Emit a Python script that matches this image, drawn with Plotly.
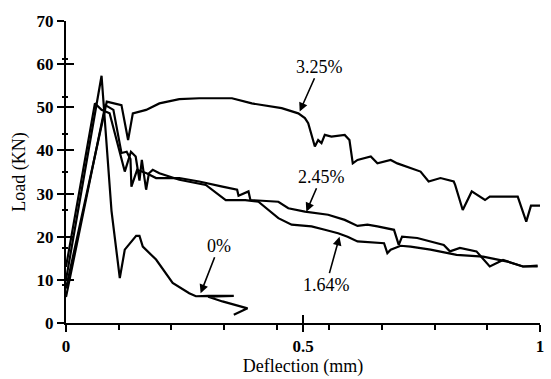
import plotly.graph_objects as go

# ---- data ----
x_0 = [0.0, 0.075, 0.096, 0.1135, 0.124, 0.138, 0.148, 0.155, 0.162, 0.19, 0.225, 0.26, 0.274,
       0.30, 0.354, 0.30, 0.33, 0.383, 0.354]
y_0 = [10.0, 57.3, 26.0, 10.4, 17.0, 18.9, 20.2, 20.2, 17.7, 14.7, 9.3, 6.9, 6.2,
       6.3, 6.3, 6.1, 5.0, 3.4, 1.9]

x_164 = [0.0, 0.061, 0.075, 0.092, 0.103, 0.116, 0.124, 0.137, 0.147, 0.155, 0.16, 0.169, 0.175,
         0.183, 0.197, 0.239, 0.295, 0.337, 0.378, 0.406, 0.427, 0.448, 0.476, 0.518, 0.546,
         0.574, 0.594, 0.615, 0.671, 0.678, 0.685, 0.706, 0.727, 0.769, 0.824, 0.88, 0.929,
         0.964, 0.995]
y_164 = [13.0, 50.9, 49.4, 48.6, 44.0, 38.6, 35.1, 39.7, 38.6, 33.0, 37.8, 30.9, 34.7,
         35.5, 34.7, 33.2, 32.0, 28.5, 28.5, 28.1, 26.2, 24.3, 22.8, 22.4, 21.6,
         20.8, 20.0, 18.9, 18.5, 16.2, 17.0, 17.9, 17.7, 17.0, 15.8, 15.4, 14.3,
         13.1, 13.1]

x_245 = [0.0, 0.083, 0.1, 0.11, 0.117, 0.128, 0.136, 0.138, 0.15, 0.17, 0.19, 0.239, 0.281,
         0.33, 0.361, 0.364, 0.385, 0.389, 0.448, 0.469, 0.504, 0.553, 0.588, 0.615, 0.636,
         0.657, 0.692, 0.702, 0.709, 0.741, 0.797, 0.81, 0.831, 0.866, 0.894, 0.922, 0.964,
         0.995]
y_245 = [6.0, 50.5, 49.4, 44.0, 39.4, 39.7, 38.0, 31.6, 35.5, 34.7, 33.6, 33.6, 32.8,
         31.6, 30.9, 29.5, 30.5, 28.5, 28.1, 26.6, 25.8, 25.1, 23.9, 22.5, 22.8,
         22.4, 21.6, 18.1, 20.0, 19.7, 18.1, 16.6, 17.4, 16.6, 13.1, 14.6, 13.1,
         13.3]

x_325 = [0.0, 0.086, 0.117, 0.131, 0.141, 0.169, 0.197, 0.239, 0.281, 0.35, 0.392, 0.455, 0.49,
         0.504, 0.511, 0.525, 0.532, 0.539, 0.546, 0.56, 0.588, 0.598, 0.605, 0.615, 0.643,
         0.657, 0.685, 0.699, 0.748, 0.765, 0.79, 0.818, 0.821, 0.837, 0.856, 0.884, 0.894,
         0.953, 0.971, 0.981, 1.0]
y_325 = [8.0, 51.3, 50.5, 42.4, 48.6, 49.4, 50.9, 51.9, 52.1, 52.1, 50.9, 49.8, 48.6,
         47.5, 46.3, 40.9, 42.4, 41.7, 43.6, 43.2, 43.6, 42.4, 37.0, 37.8, 38.6,
         37.0, 37.8, 37.0, 35.1, 32.8, 33.6, 32.8, 32.0, 26.2, 30.5, 28.5, 29.3,
         29.3, 23.5, 27.2, 27.2]

labels = ["0%", "1.64%", "2.45%", "3.25%"]
label_text_x = [0.323, 0.549, 0.539, 0.535]
label_text_y = [17.9, 8.9, 33.9, 59.4]
label_head_x = [0.284, 0.577, 0.507, 0.493]
label_head_y = [6.9, 20.0, 25.8, 49.0]

x_major = [0, 0.5, 1]
x_major_text = ["0", "0.5", "1"]
y_major = [0, 10, 20, 30, 40, 50, 60, 70]

FONT = "Liberation Serif, Times New Roman, serif"

fig = go.Figure()
for xs, ys in [(x_0, y_0), (x_164, y_164), (x_245, y_245), (x_325, y_325)]:
    fig.add_trace(go.Scatter(x=xs, y=ys, mode="lines",
                             line=dict(color="black", width=2.2),
                             showlegend=False, hoverinfo="skip"))
# invisible trace so the overlay axes (inside ticks) get drawn
fig.add_trace(go.Scatter(x=[0.5], y=[35], mode="markers", marker=dict(opacity=0),
                         xaxis="x2", yaxis="y2", showlegend=False, hoverinfo="skip"))

for t, tx, ty, hx, hy in zip(labels, label_text_x, label_text_y, label_head_x, label_head_y):
    fig.add_annotation(x=hx, y=hy, ax=tx, ay=ty, axref="x", ayref="y",
                       text=t, showarrow=True, arrowhead=2, arrowsize=1.1,
                       arrowwidth=1.6, arrowcolor="black", standoff=0,
                       font=dict(family=FONT, size=18, color="black"))

fig.update_layout(
    width=551, height=379,
    margin=dict(l=66, r=7, t=21, b=56),
    paper_bgcolor="white", plot_bgcolor="white",
    xaxis=dict(range=[0, 1], tickvals=x_major, ticktext=x_major_text,
               ticks="outside", ticklen=7, tickwidth=2, tickcolor="black",
               showline=True, linecolor="black", linewidth=2, showgrid=False,
               zeroline=False,
               minor=dict(dtick=1/9, tick0=0, ticks="outside", ticklen=5,
                          tickwidth=2, tickcolor="black", showgrid=False),
               tickfont=dict(family=FONT, size=17, color="black", weight="bold"),
               title=dict(text="Deflection (mm)", standoff=2,
                          font=dict(family=FONT, size=18, color="black"))),
    yaxis=dict(range=[0, 70], tickvals=y_major,
               ticks="outside", ticklen=7, tickwidth=2, tickcolor="black",
               showline=True, linecolor="black", linewidth=2, showgrid=False,
               zeroline=False,
               minor=dict(dtick=8.75, tick0=0, ticks="outside", ticklen=2,
                          tickwidth=2, tickcolor="black", showgrid=False),
               tickfont=dict(family=FONT, size=17, color="black", weight="bold"),
               title=dict(text="Load (KN)", standoff=6,
                          font=dict(family=FONT, size=18, color="black"))),
    xaxis2=dict(range=[0, 1], overlaying="x", anchor="y2", side="bottom", tickvals=x_major,
                ticks="inside", ticklen=8, tickwidth=2, tickcolor="black",
                showticklabels=False, showline=False, showgrid=False, zeroline=False),
    yaxis2=dict(range=[0, 70], overlaying="y", anchor="x2", side="left", tickvals=y_major,
                ticks="inside", ticklen=8, tickwidth=2, tickcolor="black",
                showticklabels=False, showline=False, showgrid=False, zeroline=False,
                minor=dict(dtick=8.75, tick0=0, ticks="inside", ticklen=2,
                           tickwidth=2, tickcolor="black", showgrid=False)),
)

fig.write_html("out.html")
